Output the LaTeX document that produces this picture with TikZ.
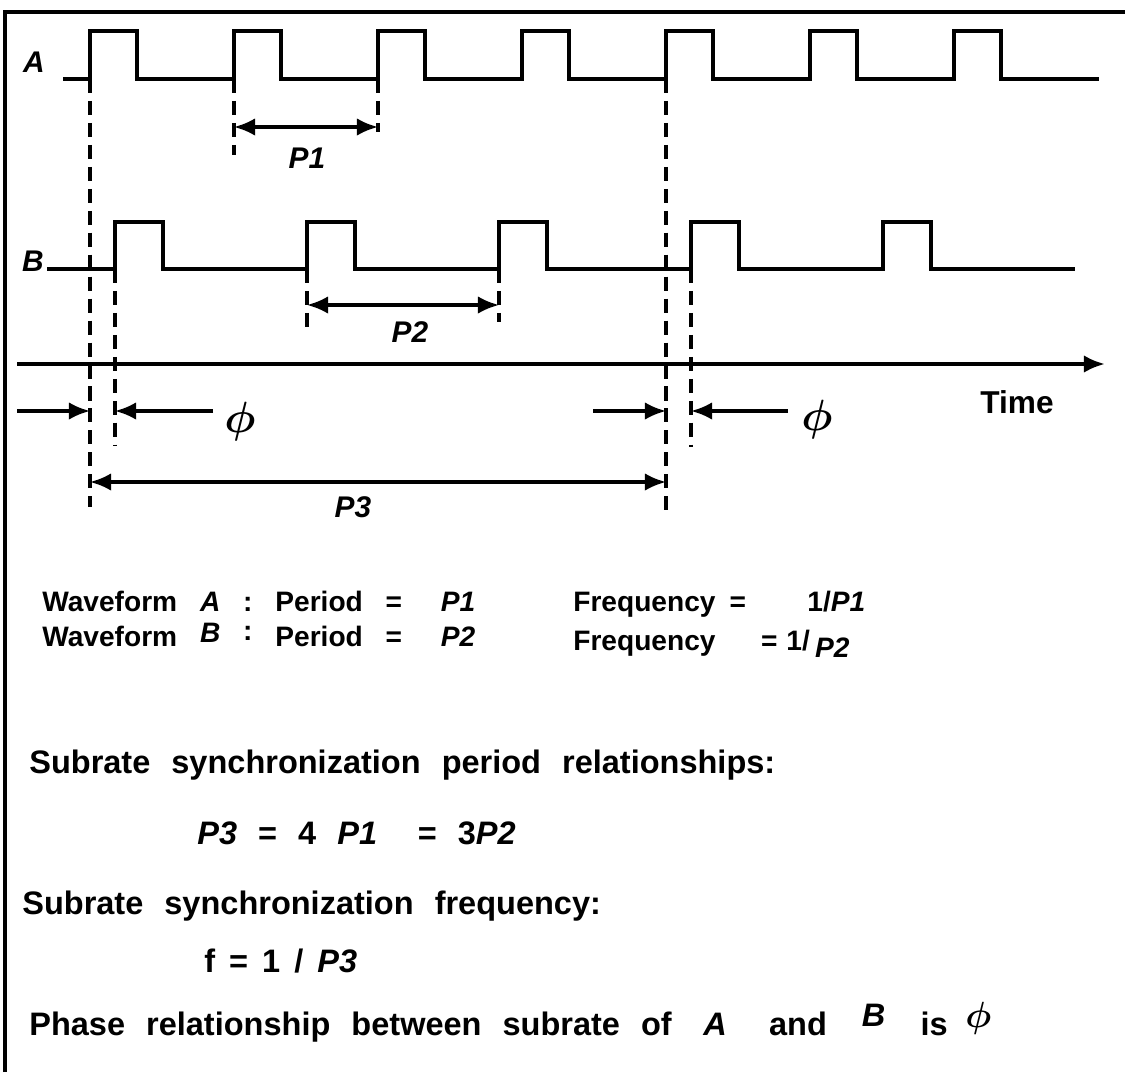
\documentclass[tikz,border=0pt]{standalone}
\usepackage{fontspec}
\setmainfont{Liberation Sans}
\usepackage{bm}
\usepackage{tikz}
\usetikzlibrary{arrows.meta, positioning, calc}

\begin{document}
\begin{tikzpicture}[
  x=0.02cm, y=-0.02cm,
  font=\fontsize{16}{19}\selectfont\bfseries,
  > = {Latex[length=12pt,width=10pt]},
  wave/.style = {line width=2.2pt, line join=miter},
  guide/.style = {line width=2pt, dash pattern=on 8pt off 4.5pt},
  dim/.style = {line width=1.9pt},
  lbl/.style = {font=\fontsize{17}{20}\selectfont\bfseries\itshape, inner sep=0pt},
  phi/.style = {font=\Huge, inner sep=0pt},
  txt/.style = {anchor=base west, inner sep=0pt, execute at begin node={\spaceskip=13pt\relax}},
  low/.style = {txt, font=\fontsize{18.5}{22}\selectfont\bfseries, execute at begin node={\spaceskip=12pt\relax}}
  ]
  \useasboundingbox (0,0) rectangle (1125,1072);
  % frame
  \draw[line width=2.8pt] (5,1072) -- (5,12) -- (1125,12);

  % waveform A, period 144
  \draw[wave] (63,79) foreach \i in {0,...,6} {
    -- ({90+144*\i},79) coordinate (ra\i) -- ({90+144*\i},31)
    -- ({137+144*\i},31) -- ({137+144*\i},79) } -- (1099,79);
  % waveform B, period 192
  \draw[wave] (47,269) foreach \i in {0,...,4} {
    -- ({115+192*\i},269) coordinate (rb\i) -- ({115+192*\i},222)
    -- ({163+192*\i},222) -- ({163+192*\i},269) } -- (1075,269);
  \node[lbl] (labA) at (34,62) {A};
  \node[lbl] (labB) at (33,261) {B};

  % rows of the dimension lines
  \coordinate (rowP1) at (0,127);
  \coordinate (rowP2) at (0,305);
  \coordinate (rowPhi) at (0,411);
  \coordinate (rowP3) at (0,482);

  % guide lines
  \draw[guide] (ra0) -- ++(0,428);
  \draw[guide] (ra4) -- ++(0,432);
  \draw[guide] (rb0) -- ++(0,177);
  \draw[guide] (rb3) -- ++(0,178);
  \draw[guide] (ra1) -- ++(0,76);
  \draw[guide] (ra2) -- ++(0,53);
  \draw[guide] (rb1) -- ++(0,64);
  \draw[guide] (rb2) -- ++(0,53);

  % time axis
  \coordinate (t0) at (17,364);
  \coordinate (t1) at (1105,364);
  \draw[wave,->] (t0) -- (t1);
  \node[font=\fontsize{18}{21}\selectfont\bfseries] (time) at (1017,402) {Time};

  % periods
  \draw[dim,<->] (ra1 |- rowP1) -- (ra2 |- rowP1);
  \node[lbl] (labP1) at (307,158) {P1};
  \draw[dim,<->] (rb1 |- rowP2) -- (rb2 |- rowP2);
  \node[lbl] (labP2) at (410,332) {P2};
  \draw[dim,<->] (ra0 |- rowP3) -- (ra4 |- rowP3);
  \node[lbl] (labP3) at (353,507) {P3};

  % phase
  \coordinate (phiL0) at (17,411);
  \coordinate (phiL1) at (213,411);
  \coordinate (phiR0) at (593,411);
  \coordinate (phiR1) at (788,411);
  \draw[dim,->] (phiL0) -- (ra0 |- rowPhi);
  \draw[dim,->] (phiL1) -- (rb0 |- rowPhi);
  \draw[dim,->] (phiR0) -- (ra4 |- rowPhi);
  \draw[dim,->] (phiR1) -- (rb3 |- rowPhi);
  \node[phi] (phiL) at (240,422) {$\bm{\phi}$};
  \node[phi] (phiR) at (817,420) {$\bm{\phi}$};

  % relations
  \node[txt] (wfA) at (42,611) {Waveform \textit{A} : Period =\hspace{22pt}\textit{P1}};
  \node[txt] (frA) at (573,611) {Frequency\hspace{8pt}=\hspace{35pt}1/\textit{P1}};
  \node[txt] (wfB) at (42,646) {Waveform \raisebox{2pt}{\textit{B}} \raisebox{3pt}{:} Period =\hspace{22pt}\textit{P2}};
  \node[txt] (frB) at (573,650) {Frequency\hspace{26pt}=\hspace{5pt}1/\hspace{3pt}\raisebox{-4pt}{\textit{P2}}};
  \node[low] (relP) at (29,773) {Subrate synchronization period relationships:};
  \node[low] (eqP) at (197,844) {\textit{P3} = 4 \textit{P1}\hspace{0.6em} = 3\textit{P2}};
  \node[low] (relF) at (22,914) {Subrate synchronization frequency:};
  \node[low] (eqF) at (204,972) {f\hspace{8pt}=\hspace{8pt}1\hspace{8pt}/\hspace{8pt}\textit{P3}};
  \node[low] (phase) at (29,1035) {Phase relationship between subrate of\hspace{18pt}\textit{A}\hspace{24pt}and\hspace{20pt}\raisebox{5pt}{\textit{B}}\hspace{20pt}is\hspace{10pt}\raisebox{4pt}{\huge$\bm{\phi}$}};
\end{tikzpicture}
\end{document}
